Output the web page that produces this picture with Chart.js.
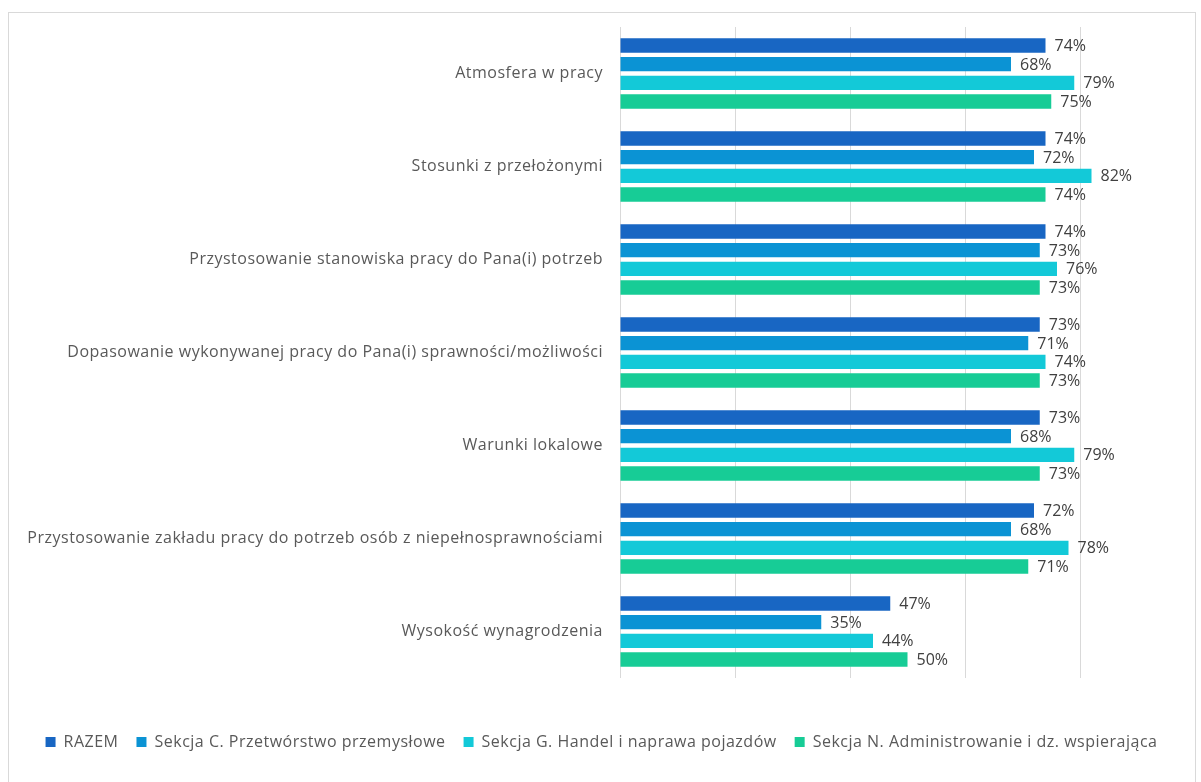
<!DOCTYPE html>
<html lang="pl">
<head>
<meta charset="utf-8">
<title>Ocena warunków pracy</title>
<script src="https://cdn.jsdelivr.net/npm/chart.js@4.4.1/dist/chart.umd.min.js"></script>
<style>
  html, body { margin: 0; padding: 0; background: #ffffff; overflow: hidden; }
  .frame {
    position: absolute;
    left: 8px; top: 12px;
    width: 1188px; height: 790px;
    border: 1px solid #d9d9d9;
    box-sizing: border-box;
  }
  .chart-box {
    position: absolute;
    left: 8px; top: 12px;
    width: 1189px; height: 770px;
  }
</style>
</head>
<body>
<div class="frame"></div>
<div class="chart-box"><canvas id="chart"></canvas></div>
<script>
  // Categories (top to bottom)
  const categories = [
    "Atmosfera w pracy",
    "Stosunki z przełożonymi",
    "Przystosowanie stanowiska pracy do Pana(i) potrzeb",
    "Dopasowanie wykonywanej pracy do Pana(i) sprawności/możliwości",
    "Warunki lokalowe",
    "Przystosowanie zakładu pracy do potrzeb osób z niepełnosprawnościami",
    "Wysokość wynagrodzenia"
  ];

  // Series values, in percent
  const razem = [74, 74, 74, 73, 73, 72, 47];
  const sekcjaC = [68, 72, 73, 71, 68, 68, 35];
  const sekcjaG = [79, 82, 76, 74, 79, 78, 44];
  const sekcjaN = [75, 74, 73, 73, 73, 71, 50];

  const seriesNames = [
    "RAZEM",
    "Sekcja C. Przetwórstwo przemysłowe",
    "Sekcja G. Handel i naprawa pojazdów",
    "Sekcja N. Administrowanie i dz. wspierająca"
  ];

  // x axis ticks (gridlines only)
  const xTicks = [0, 20, 40, 60, 80, 100];

  const colors = ["#1866c3", "#0b93d4", "#13c9d8", "#17cc96"];
  const font = "'Open Sans', 'Noto Sans', sans-serif";

  // slightly spaced-out lettering for axis and legend text
  const letterSpacing = {
    id: 'letterSpacing',
    beforeLayout(chart) { chart.ctx.letterSpacing = '0.5px'; },
    beforeDraw(chart) { chart.ctx.letterSpacing = '0.5px'; }
  };

  // value labels drawn just past the end of each bar
  const barValueLabels = {
    id: 'barValueLabels',
    afterDatasetsDraw(chart) {
      const ctx = chart.ctx;
      ctx.save();
      ctx.letterSpacing = '0px';
      ctx.font = '16px ' + font;
      ctx.fillStyle = '#404040';
      ctx.textAlign = 'left';
      ctx.textBaseline = 'middle';
      chart.data.datasets.forEach((ds, i) => {
        const meta = chart.getDatasetMeta(i);
        meta.data.forEach((bar, j) => {
          ctx.fillText(ds.data[j] + '%', bar.x + 9, bar.y + 1);
        });
      });
      ctx.restore();
    }
  };

  const seriesData = [razem, sekcjaC, sekcjaG, sekcjaN];

  new Chart(document.getElementById('chart'), {
    type: 'bar',
    data: {
      labels: categories,
      datasets: seriesData.map((d, i) => ({
        label: seriesNames[i],
        data: d,
        backgroundColor: colors[i],
        borderWidth: 0,
        categoryPercentage: 0.805,
        barPercentage: 0.77
      }))
    },
    options: {
      indexAxis: 'y',
      responsive: true,
      maintainAspectRatio: false,
      animation: false,
      layout: {
        padding: { top: 15, right: 2, left: 0, bottom: 22 }
      },
      plugins: {
        legend: {
          position: 'bottom',
          labels: {
            boxWidth: 10,
            boxHeight: 10,
            padding: 18,
            color: '#595959',
            font: { family: font, size: 16 }
          }
        },
        tooltip: { enabled: false }
      },
      scales: {
        x: {
          min: 0,
          max: 100,
          afterBuildTicks: (scale) => {
            scale.ticks = xTicks.map(v => ({ value: v }));
          },
          ticks: { display: false },
          border: { display: false },
          grid: {
            color: '#d9d9d9',
            drawTicks: false
          },
          afterFit: (scale) => {
            scale.height = 38;
            scale.paddingLeft = 0;
            scale.paddingRight = 0;
          }
        },
        y: {
          ticks: {
            color: '#595959',
            padding: 17,
            font: { family: font, size: 16 }
          },
          border: { display: false },
          grid: { display: false, drawTicks: false },
          afterFit: (scale) => {
            scale.width = 612;
            scale.paddingTop = 0;
            scale.paddingBottom = 0;
          }
        }
      }
    },
    plugins: [letterSpacing, barValueLabels]
  });
</script>
</body>
</html>
